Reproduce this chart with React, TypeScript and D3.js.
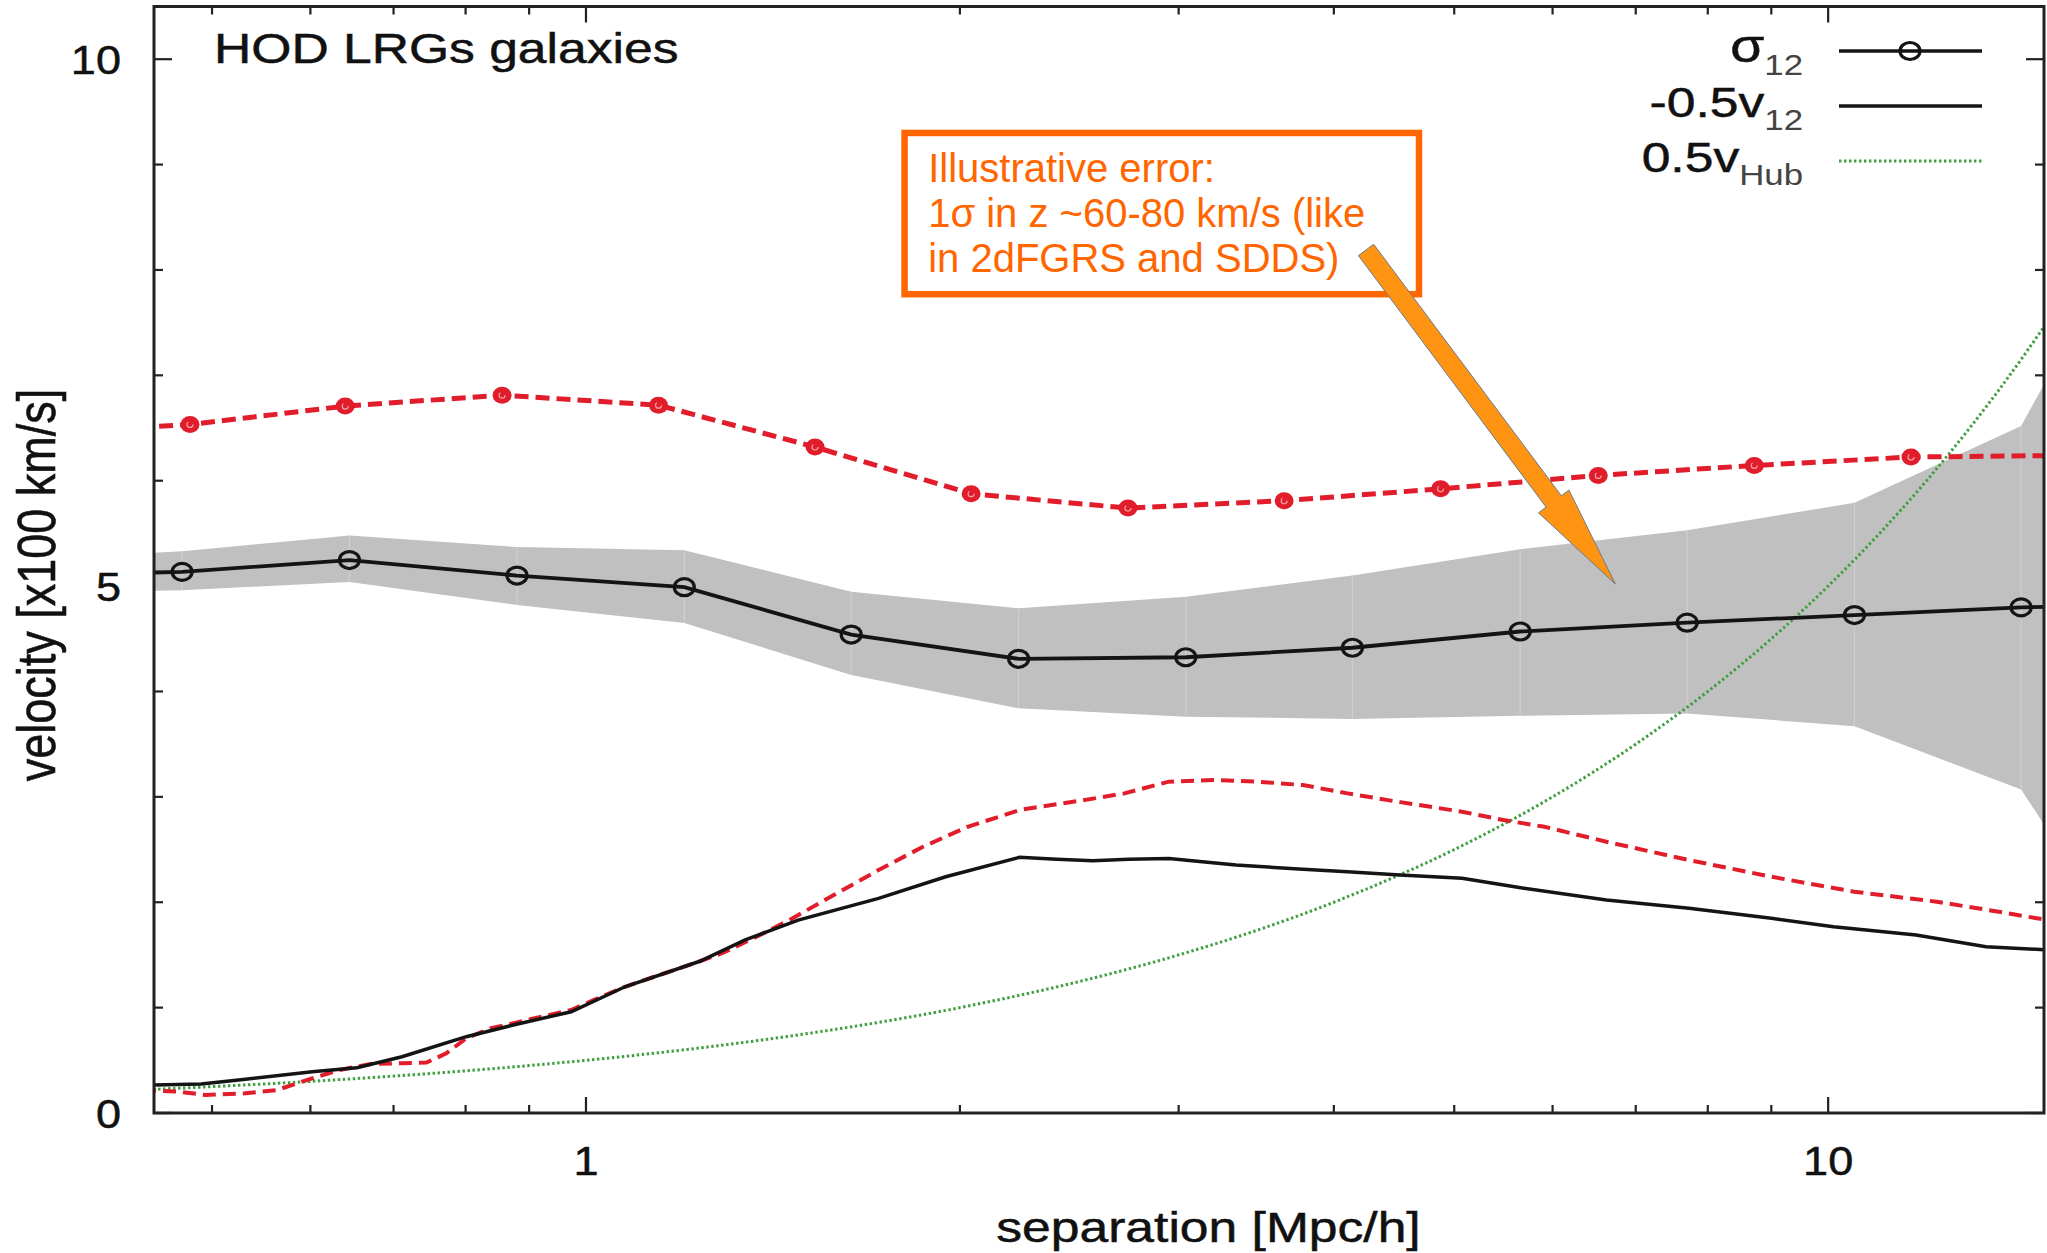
import * as d3 from 'd3';
import { useEffect, useRef } from 'react';

const W = 2047;
const H = 1253;
const FONT = '"Liberation Sans", Arial, sans-serif';

// sigma_12 from the HOD mock (points + shaded error band)
const sigR = [0.347, 0.473, 0.645, 0.88, 1.2, 1.635, 2.23, 3.04, 4.14, 5.65, 7.7, 10.5, 14.3, 19.5];
const sigV = [5.1, 5.135, 5.247, 5.1, 4.99, 4.54, 4.31, 4.325, 4.415, 4.569, 4.653, 4.725, 4.798, 4.83];
const bandLo = [4.93, 4.96, 5.04, 4.82, 4.65, 4.156, 3.84, 3.76, 3.74, 3.77, 3.79, 3.67, 3.07, 0.65];
const bandHi = [5.25, 5.33, 5.48, 5.37, 5.34, 4.946, 4.79, 4.9, 5.1, 5.35, 5.53, 5.79, 6.52, 9.4];

// red dashed sigma_12 with filled markers
const redR = [0.359, 0.48, 0.64, 0.856, 1.144, 1.529, 2.042, 2.731, 3.648, 4.875, 6.53, 8.72, 11.66, 15.6];
const redV = [6.45, 6.534, 6.708, 6.812, 6.717, 6.32, 5.876, 5.74, 5.81, 5.923, 6.05, 6.145, 6.225, 6.24];

// -0.5 v12, black solid
const lowBlackR = [0.44, 0.49, 0.532, 0.602, 0.654, 0.711, 0.801, 0.874, 0.973, 1.075, 1.235, 1.342, 1.482, 1.72, 1.948, 2.233, 2.394, 2.559, 2.735, 2.946, 3.336, 3.777, 4.102, 4.523, 5.073, 5.689, 6.63, 7.726, 9.0, 10.1, 11.77, 13.4, 15.2];
const lowBlackV = [0.265, 0.275, 0.32, 0.392, 0.43, 0.534, 0.724, 0.835, 0.961, 1.198, 1.44, 1.641, 1.831, 2.037, 2.242, 2.426, 2.407, 2.394, 2.407, 2.416, 2.353, 2.312, 2.289, 2.258, 2.227, 2.132, 2.021, 1.942, 1.847, 1.768, 1.689, 1.578, 1.545];

// -0.5 v12, red dashed
const lowRedR = [0.44, 0.47, 0.494, 0.532, 0.564, 0.602, 0.633, 0.671, 0.711, 0.744, 0.772, 0.801, 0.839, 0.896, 0.973, 1.014, 1.075, 1.235, 1.287, 1.364, 1.458, 1.583, 1.72, 1.868, 2.029, 2.242, 2.496, 2.713, 2.946, 3.201, 3.476, 3.777, 4.102, 4.523, 5.073, 5.476, 5.911, 6.63, 7.726, 9.0, 10.49, 12.23, 13.72, 15.2];
const lowRedV = [0.22, 0.202, 0.171, 0.187, 0.218, 0.329, 0.408, 0.465, 0.472, 0.478, 0.567, 0.709, 0.804, 0.882, 0.977, 1.072, 1.198, 1.44, 1.516, 1.658, 1.831, 2.068, 2.306, 2.527, 2.716, 2.88, 2.962, 3.033, 3.144, 3.16, 3.144, 3.112, 3.033, 2.95, 2.859, 2.78, 2.716, 2.574, 2.4, 2.242, 2.1, 2.005, 1.91, 1.82];

// 0.5 v_Hub
const hubR = [0.44, 0.5, 0.6, 0.7, 0.8, 0.9, 1, 1.25, 1.5, 2, 2.5, 3, 4, 5, 6, 7, 8, 9, 10, 11, 12, 13, 14, 15];
const hubV = [0.22, 0.25, 0.3, 0.35, 0.4, 0.45, 0.5, 0.625, 0.75, 1, 1.25, 1.5, 2, 2.5, 3, 3.5, 4, 4.5, 5, 5.5, 6, 6.5, 7, 7.5];

const xMajor = [1, 10];
const xMinor = [0.5, 0.6, 0.7, 0.8, 0.9, 2, 3, 4, 5, 6, 7, 8, 9];
const yMajor = [0, 5, 10];
const yMinor = [1, 2, 3, 4, 6, 7, 8, 9];

const legendMain = ['σ', '-0.5v', '0.5v'];
const legendSub = ['12', '12', 'Hub'];

const noteLines = ['Illustrative error:', '1σ in z ~60-80 km/s (like', 'in 2dFGRS and SDDS)'];

export default function App() {
  const svgRef = useRef<SVGSVGElement>(null);

  useEffect(() => {
    if (svgRef.current == null) return;
    document.body.style.margin = '0';
    document.body.style.overflow = 'hidden';
    const svg = d3.select(svgRef.current);
    svg.selectAll('*').remove();

    const left = 154, right = 2044, top = 6.5, bottom = 1113;
    const x = d3.scaleLog().domain([0.449, 14.92]).range([left, right]);
    const y = d3.scaleLinear().domain([0, 10.5]).range([bottom, top]);
    const SX = 1.2;
    const RED = '#e11d2b';
    const GREEN = '#3f9f3f';
    const BLK = '#141414';

    svg.append('rect').attr('width', W).attr('height', H).attr('fill', '#fff');
    svg.append('defs').append('clipPath').attr('id', 'plot')
      .append('rect').attr('x', left).attr('y', top).attr('width', right - left).attr('height', bottom - top);

    // ticks on all four sides, pointing inward
    const tk = svg.append('g').attr('stroke', '#222').attr('stroke-width', 2.2);
    const xt = [...xMajor.map((v) => [v, 16]), ...xMinor.map((v) => [v, 8])];
    xt.forEach(([v, len]) => {
      tk.append('line').attr('x1', x(v)).attr('x2', x(v)).attr('y1', bottom).attr('y2', bottom - len);
      tk.append('line').attr('x1', x(v)).attr('x2', x(v)).attr('y1', top).attr('y2', top + len);
    });
    const yt = [...yMajor.map((v) => [v, 18]), ...yMinor.map((v) => [v, 9])];
    yt.forEach(([v, len]) => {
      tk.append('line').attr('y1', y(v)).attr('y2', y(v)).attr('x1', left).attr('x2', left + len);
      tk.append('line').attr('y1', y(v)).attr('y2', y(v)).attr('x1', right).attr('x2', right - len);
    });

    const plot = svg.append('g').attr('clip-path', 'url(#plot)');

    // shaded band
    const band = d3.area<number>()
      .x((_, i) => x(sigR[i]))
      .y0((_, i) => y(bandLo[i]))
      .y1((_, i) => y(bandHi[i]));
    plot.append('path').attr('d', band(sigR)).attr('fill', '#c0c0c0');
    sigR.forEach((r, i) => {
      plot.append('line').attr('x1', x(r)).attr('x2', x(r)).attr('y1', y(bandLo[i])).attr('y2', y(bandHi[i]))
        .attr('stroke', '#cfcfcf').attr('stroke-width', 1.2);
    });

    const line = (rs: number[], vs: number[], curve = d3.curveLinear) =>
      d3.line<number>().x((_, i) => x(rs[i])).y((_, i) => y(vs[i])).curve(curve)(rs);

    // Hubble
    plot.append('path').attr('d', line(hubR, hubV, d3.curveMonotoneX)).attr('fill', 'none')
      .attr('stroke', GREEN).attr('stroke-width', 3).attr('stroke-dasharray', '2.4 2.6');

    // lower curves
    plot.append('path').attr('d', line(lowRedR, lowRedV)).attr('fill', 'none')
      .attr('stroke', RED).attr('stroke-width', 4).attr('stroke-dasharray', '13 7');
    plot.append('path').attr('d', line(lowBlackR, lowBlackV)).attr('fill', 'none')
      .attr('stroke', BLK).attr('stroke-width', 3.5);

    // red upper curve with markers
    plot.append('path').attr('d', line(redR, redV)).attr('fill', 'none')
      .attr('stroke', RED).attr('stroke-width', 5).attr('stroke-dasharray', '14 7');
    redR.forEach((r, i) => {
      plot.append('ellipse').attr('cx', x(r)).attr('cy', y(redV[i])).attr('rx', 9.5).attr('ry', 8.5).attr('fill', RED);
      plot.append('circle').attr('cx', x(r)).attr('cy', y(redV[i])).attr('r', 3).attr('fill', 'none')
        .attr('stroke', '#f4a0a0').attr('stroke-width', 1.2).attr('stroke-dasharray', '12 7');
    });

    // sigma_12 line with open markers
    plot.append('path').attr('d', line(sigR, sigV)).attr('fill', 'none')
      .attr('stroke', BLK).attr('stroke-width', 3.8);
    sigR.forEach((r, i) => {
      plot.append('ellipse').attr('cx', x(r)).attr('cy', y(sigV[i])).attr('rx', 10).attr('ry', 8.5)
        .attr('fill', 'none').attr('stroke', BLK).attr('stroke-width', 3.2);
    });

    // frame
    svg.append('rect').attr('x', left).attr('y', top).attr('width', right - left).attr('height', bottom - top)
      .attr('fill', 'none').attr('stroke', '#222').attr('stroke-width', 3);

    const txt = (px: number, py: number, s: string, size: number, anchor: string, sx = SX) =>
      svg.append('g').attr('transform', `translate(${px},${py}) scale(${sx},1)`)
        .append('text').attr('font-family', FONT).attr('font-size', size)
        .attr('text-anchor', anchor).attr('fill', '#111').attr('stroke', '#111').attr('stroke-width', 0.5).text(s);

    // tick labels
    xMajor.forEach((v) => txt(x(v), 1175, String(v), 41, 'middle', 1.1));
    yMajor.forEach((v) => txt(121, y(v) + 14.5, String(v), 41, 'end', 1.1));

    // axis titles
    txt(1208.5, 1241.7, 'separation [Mpc/h]', 43, 'middle');
    svg.append('g').attr('transform', `translate(55,585) scale(${SX},1) rotate(-90)`)
      .append('text').attr('font-family', FONT).attr('font-size', 45).attr('text-anchor', 'middle')
      .attr('fill', '#111').attr('stroke', '#111').attr('stroke-width', 0.5).text('velocity [x100 km/s]');

    // title
    txt(214, 63.3, 'HOD LRGs galaxies', 43, 'start');

    // legend
    const lx0 = 1839, lx1 = 1982;
    legendMain.forEach((m, i) => {
      const ly = 51 + 55 * i;
      const t = svg.append('g').attr('transform', `translate(1803,${ly + 11}) scale(${SX},1)`)
        .append('text').attr('font-family', FONT).attr('text-anchor', 'end').attr('fill', '#111');
      t.append('tspan').attr('font-size', i === 0 ? 46 : 43).attr('stroke', '#111').attr('stroke-width', 0.5).text(m);
      t.append('tspan').attr('font-size', 29).attr('dy', 13).attr('fill', '#444').text(legendSub[i]);
      const ln = svg.append('line').attr('x1', lx0).attr('x2', lx1).attr('y1', ly).attr('y2', ly);
      if (i === 0) {
        ln.attr('stroke', BLK).attr('stroke-width', 3.6);
        svg.append('ellipse').attr('cx', 1910).attr('cy', ly).attr('rx', 10).attr('ry', 8.5)
          .attr('fill', 'none').attr('stroke', BLK).attr('stroke-width', 3.2);
      } else if (i === 1) {
        ln.attr('stroke', BLK).attr('stroke-width', 3.6);
      } else {
        ln.attr('stroke', GREEN).attr('stroke-width', 3).attr('stroke-dasharray', '2.4 2.6');
      }
    });

    // annotation box (data coords)
    const bx0 = x(1.805), bx1 = x(4.684), by0 = y(9.3), by1 = y(7.77);
    svg.append('rect').attr('x', bx0).attr('y', by0).attr('width', bx1 - bx0).attr('height', by1 - by0)
      .attr('fill', 'none').attr('stroke', '#ff6600').attr('stroke-width', 6.5);
    noteLines.forEach((s, i) => {
      svg.append('text').attr('x', bx0 + 23.6).attr('y', by0 + 49 + 45 * i)
        .attr('font-family', FONT).attr('font-size', 40).attr('fill', '#ff6600').text(s);
    });

    // arrow
    const tx = x(4.246), ty = y(8.19), px = x(6.74), py = y(5.02);
    const dx = px - tx, dy = py - ty, L = Math.hypot(dx, dy);
    const ux = dx / L, uy = dy / L, nx = -uy, ny = ux;
    const hw = 9.5, hh = 19, hl = 103;
    const bxp = px - ux * hl, byp = py - uy * hl;
    const pts = [
      [tx + nx * hw, ty + ny * hw], [bxp + nx * hw, byp + ny * hw], [bxp + nx * hh, byp + ny * hh],
      [px, py], [bxp - nx * hh, byp - ny * hh], [bxp - nx * hw, byp - ny * hw], [tx - nx * hw, ty - ny * hw],
    ];
    svg.append('polygon').attr('points', pts.map((p) => p.join(',')).join(' '))
      .attr('fill', '#ff9412').attr('stroke', '#6b7a8c').attr('stroke-width', 1);
  }, []);

  return <svg ref={svgRef} width={W} height={H} style={{ display: 'block' }} />;
}
